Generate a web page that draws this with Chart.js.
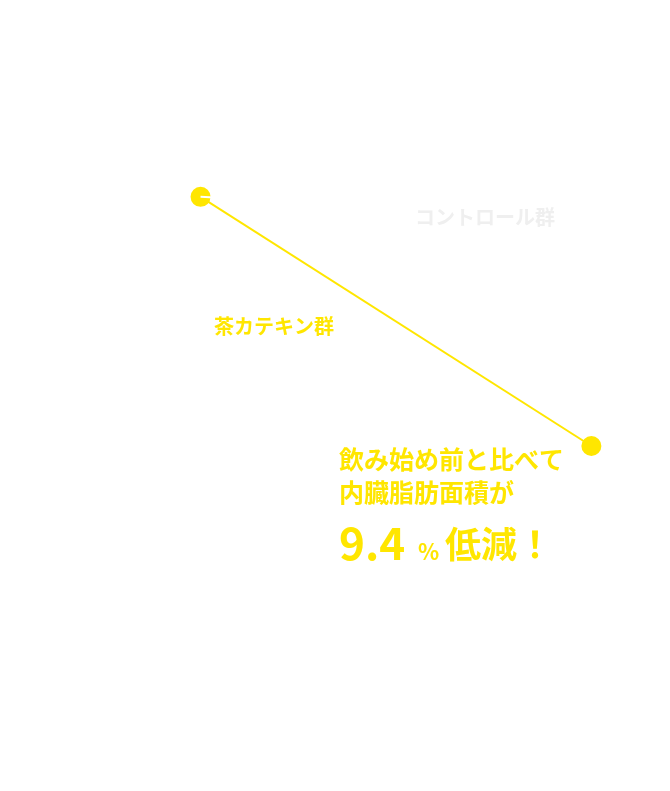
<!DOCTYPE html>
<html><head><meta charset="utf-8">
<script src="https://cdn.jsdelivr.net/npm/chart.js@4"></script>
<style>html,body{margin:0;padding:0;background:#fff}#wrap{width:670px;height:791px}</style>
</head><body><div id="wrap"><canvas id="grafico"></canvas></div>
<script>
// 内臓脂肪面積 (飲み始め前 = 100)
const periods = [0, 1]
const catechin = [100, 90.6]
const control = [100, 99.2]

const yellow = '#ffe600'

const labelsPlugin = {
  id: 'textos',
  afterDraw(chart) {
    const c = chart.ctx
    c.save()
    c.textBaseline = 'alphabetic'
    c.font = 'bold 20px "Noto Sans CJK JP"'
    c.fillStyle = '#efefef'
    c.fillText('コントロール群', 415, 225)
    c.fillStyle = yellow
    c.fillText('茶カテキン群', 214, 334)
    c.font = 'bold 25px "Noto Sans CJK JP"'
    c.fillText('飲み始め前と比べて', 339, 469)
    c.fillText('内臓脂肪面積が', 339, 502)
    c.font = 'bold 44px "Noto Sans CJK JP"'
    c.fillText('9.4', 339, 560)
    c.font = 'bold 22px "Noto Sans CJK JP"'
    c.fillText('%', 418, 560)
    c.font = 'bold 36px "Noto Sans CJK JP"'
    c.fillText('低減！', 445, 558)
    c.restore()
  }
}

new Chart(document.getElementById('grafico'), {
  type: 'line',
  data: {
    datasets: [
      { label: 'コントロール群', data: periods.map((x, i) => ({ x, y: control[i] })),
        borderColor: '#ffffff', backgroundColor: '#ffffff', borderWidth: 2, pointRadius: 0 },
      { label: '茶カテキン群', data: periods.map((x, i) => ({ x, y: catechin[i] })),
        borderColor: yellow, backgroundColor: yellow, borderWidth: 2,
        pointRadius: 9, pointHoverRadius: 9 }
    ]
  },
  options: {
    responsive: true, maintainAspectRatio: false, animation: false,
    layout: { padding: 0 },
    plugins: { legend: { display: false }, tooltip: { enabled: false } },
    scales: {
      x: { type: 'linear', min: -0.485, max: 1.173, display: false },
      y: { min: 78.0, max: 107.01, display: false }
    }
  },
  plugins: [labelsPlugin]
})
</script></body></html>
